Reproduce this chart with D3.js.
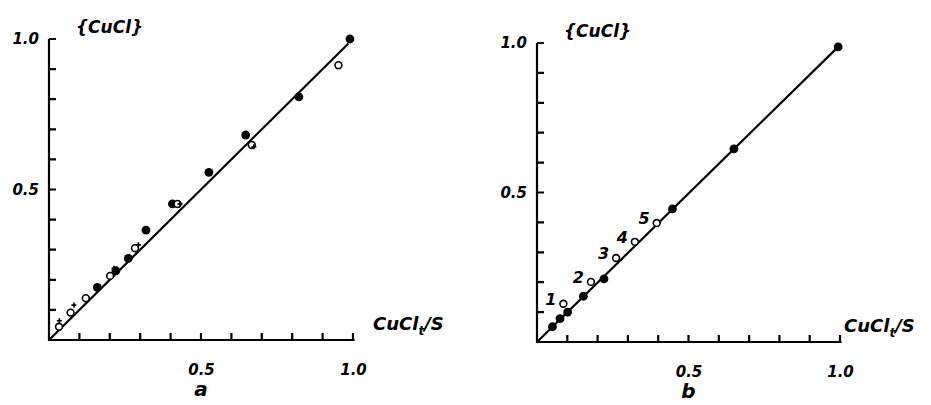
<!DOCTYPE html>
<html lang="en">
 <head>
  <meta charset="UTF-8">
  <title>CuCl</title>
  <style>
   body { margin: 0; background: #fff; }
   text { font-family: "DejaVu Sans", sans-serif; font-style: italic; font-weight: bold; fill: #000; }
  </style>
 </head>
 <body>
<svg width="931" height="405"></svg>
<script src="https://d3js.org/d3.v7.min.js"></script>
<script>

// tick positions and labels (same for both panels)
var minorTicks = [0.1, 0.2, 0.3, 0.4, 0.5, 0.6, 0.7, 0.8, 0.9, 1.0];
var labelTicks = [0.5, 1.0];
var tickLabels = ["0.5", "1.0"];

// panel a
var aFilledX = [0.99, 0.822, 0.647, 0.526, 0.406, 0.319, 0.261, 0.220, 0.159];
var aFilledY = [1.0, 0.808, 0.681, 0.557, 0.452, 0.365, 0.271, 0.230, 0.175];
var aOpenX = [0.952, 0.667, 0.423, 0.283, 0.201, 0.121, 0.071, 0.033];
var aOpenY = [0.913, 0.648, 0.452, 0.305, 0.213, 0.139, 0.091, 0.044];
var aCrossX = [0.034, 0.082, 0.214, 0.294, 0.431, 0.674];
var aCrossY = [0.064, 0.116, 0.238, 0.316, 0.452, 0.642];
var aLine = [[0, 0], [0.985, 0.985]];

// panel b
var bFilledX = [0.994, 0.650, 0.447, 0.221, 0.153, 0.101, 0.076, 0.051];
var bFilledY = [0.987, 0.646, 0.445, 0.211, 0.153, 0.100, 0.078, 0.051];
var bOpenX = [0.395, 0.323, 0.261, 0.178, 0.087];
var bOpenY = [0.398, 0.335, 0.281, 0.201, 0.128];
var bOpenLabels = ["5", "4", "3", "2", "1"];
var bLine = [[0, 0], [0.994, 0.987]];

var svg = d3.select("svg");

function zip(xs, ys) {
  return xs.map(function(v, i){ return [v, ys[i]]; });
}

function labelAxis(s) {
  s.select(".domain").remove();
  s.selectAll(".tick line").remove();
  s.selectAll("text").attr("font-size", 15).attr("font-family", "DejaVu Sans")
    .attr("font-style", "italic").attr("font-weight", "bold");
}

function panel(opt) {
  var x = d3.scaleLinear().domain([0, 1]).range(opt.xr);
  var y = d3.scaleLinear().domain([0, 1]).range(opt.yr);
  var g = svg.append("g");

  // small ticks as one path: up from the x axis, right from the y axis
  var tickPath = d3.path();
  minorTicks.forEach(function(d){
    tickPath.moveTo(x(d), y(0)); tickPath.lineTo(x(d), y(0) - 7);
    tickPath.moveTo(x(0), y(d)); tickPath.lineTo(x(0) + 7, y(d));
  });
  g.append("path").attr("d", tickPath.toString())
    .attr("stroke", "#000").attr("stroke-width", 2.2).attr("fill", "none");

  // axis lines
  var axisPath = d3.path();
  axisPath.moveTo(x(0), y(1)); axisPath.lineTo(x(0), y(0)); axisPath.lineTo(x(1.005), y(0));
  g.append("path").attr("d", axisPath.toString())
    .attr("stroke", "#000").attr("stroke-width", 2.2).attr("fill", "none");

  // tick labels
  g.append("g")
    .attr("transform", "translate(0," + opt.yr[0] + ")")
    .call(d3.axisBottom(x).tickValues(labelTicks).tickSize(0).tickPadding(24)
      .tickFormat(function(d, i){ return tickLabels[i]; }))
    .call(labelAxis);
  g.append("g")
    .attr("transform", "translate(" + opt.xr[0] + ",0)")
    .call(d3.axisLeft(y).tickValues(labelTicks).tickSize(0).tickPadding(10)
      .tickFormat(function(d, i){ return tickLabels[i]; }))
    .call(labelAxis);

  // fitted line
  g.append("path").datum(opt.line)
    .attr("d", d3.line().x(function(d){ return x(d[0]); }).y(function(d){ return y(d[1]); }))
    .attr("stroke", "#000").attr("stroke-width", 2.2).attr("fill", "none");

  g.selectAll(".filled").data(opt.filled).enter().append("circle")
    .attr("cx", function(d){ return x(d[0]); })
    .attr("cy", function(d){ return y(d[1]); })
    .attr("r", 4.4).attr("fill", "#000");

  g.selectAll(".open").data(opt.open).enter().append("circle")
    .attr("cx", function(d){ return x(d[0]); })
    .attr("cy", function(d){ return y(d[1]); })
    .attr("r", 3.4).attr("fill", "#fff").attr("stroke", "#000").attr("stroke-width", 1.6);

  if (opt.cross) {
    g.selectAll(".cross").data(opt.cross).enter().append("path")
      .attr("transform", function(d){ return "translate(" + x(d[0]) + "," + y(d[1]) + ")"; })
      .attr("d", d3.symbol().type(d3.symbolCross).size(14))
      .attr("fill", "#000");
  }

  if (opt.openLabels) {
    g.selectAll(".olab").data(opt.open).enter().append("text")
      .attr("x", function(d){ return x(d[0]) - 7; })
      .attr("y", function(d){ return y(d[1]) + 1; })
      .attr("text-anchor", "end")
      .attr("font-size", 16)
      .text(function(d, i){ return opt.openLabels[i]; });
  }

  // axis titles
  g.append("text").attr("x", opt.xr[0] + 27).attr("y", opt.yr[1] - 6)
    .attr("font-size", 17).attr("font-weight", "normal").text("{CuCl}");
  var t = g.append("text").attr("x", opt.xr[1] + opt.titleGap).attr("y", opt.yr[0] - 10)
    .attr("font-size", 18).attr("font-weight", "normal");
  t.append("tspan").text("CuCl");
  t.append("tspan").attr("font-size", 12).attr("dy", 5).text("t");
  t.append("tspan").attr("dy", -5).text("/S");

  g.append("text").attr("x", x(0.5)).attr("y", opt.yr[0] + 56)
    .attr("text-anchor", "middle").attr("font-size", 20).attr("font-weight", "normal").text(opt.name);
}

panel({
  xr: [49, 353], yr: [340, 39], titleGap: 20,
  filled: zip(aFilledX, aFilledY), open: zip(aOpenX, aOpenY),
  cross: zip(aCrossX, aCrossY), line: aLine, name: "a"
});

panel({
  xr: [537, 840], yr: [342, 43], titleGap: 4,
  filled: zip(bFilledX, bFilledY), open: zip(bOpenX, bOpenY),
  openLabels: bOpenLabels, line: bLine, name: "b"
});

</script>
 </body>
</html>
